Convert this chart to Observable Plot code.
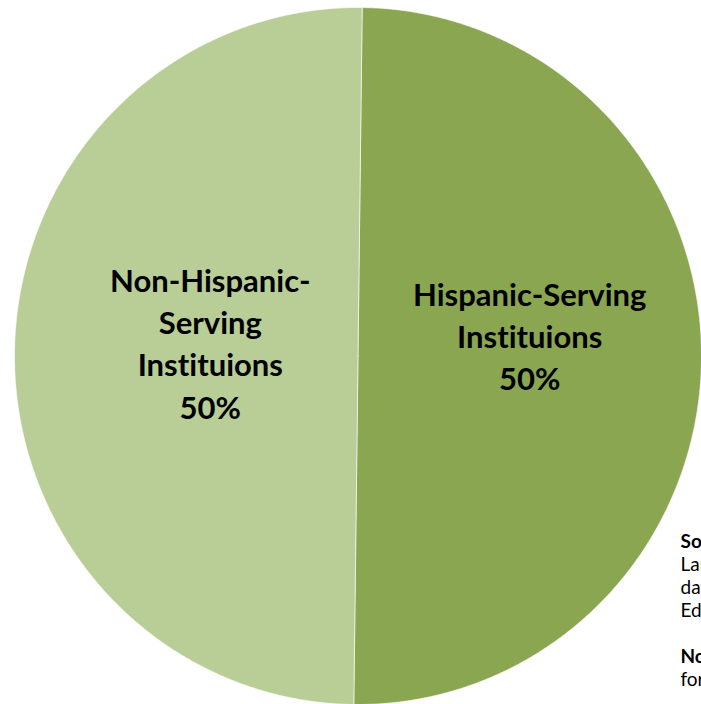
<!DOCTYPE html>
<html>
<head>
<meta charset="utf-8">
<script src="https://cdn.jsdelivr.net/npm/d3@7"></script>
<script src="https://cdn.jsdelivr.net/npm/@observablehq/plot@0.6"></script>
<style>
  html, body { margin: 0; padding: 0; background: #fff; overflow: hidden; }
  #chart svg { display: block; font-variant-ligatures: none; }
  #chart svg text { font-variant-ligatures: none; }
</style>
</head>
<body>
<div id="chart"></div>
<script>
// ---- data ----
const categories = ["Hispanic-Serving Instituions", "Non-Hispanic-Serving Instituions"];
const shares = [50, 50];
const labelLines = [
  ["Hispanic-Serving", "Instituions", "50%"],
  ["Non-Hispanic-", "Serving", "Instituions", "50%"]
];
const sliceColors = ["#8aa650", "#b9cd96"];
const noteLines = ["Source:", "Largest ...", "data ...", "Education ...", "", "Note:", "for ..."];
const noteBold = [true, false, false, false, false, true, false];

(function () {
  // ---- geometry ----
  const W = 701, H = 704;
  const pxLeft = 14, pxRight = 701, pxTop = 7, pxBottom = 704;
  const cx = (pxLeft + pxRight) / 2, cy = (pxTop + pxBottom) / 2;
  const Rx = (pxRight - pxLeft) / 2, Ry = (pxBottom - pxTop) / 2;
  const rotation = 0.7 * Math.PI / 180;

  const pie = d3.pie().sort(null).value(d => d).startAngle(rotation).endAngle(rotation + 2 * Math.PI);
  const arcs = pie(shares);

  const polys = [];
  arcs.forEach((a, i) => {
    polys.push({cat: categories[i], x: 0, y: 0});
    const n = 400;
    for (let k = 0; k <= n; k++) {
      const t = a.startAngle + (a.endAngle - a.startAngle) * k / n;
      polys.push({cat: categories[i], x: Math.sin(t), y: Math.cos(t)});
    }
    polys.push({cat: categories[i], x: 0, y: 0});
  });

  const labels = arcs.map((a, i) => {
    const mid = (a.startAngle + a.endAngle) / 2;
    const rr = i === 0 ? 0.5 : 0.43;
    return {text: labelLines[i].join("\n"), x: rr * Math.sin(mid), y: rr * Math.cos(mid) + (i === 0 ? 0.05 : 0.018)};
  });

  const notes = noteLines.map((t, i) => ({text: t, bold: noteBold[i], x: (680 - cx) / Rx, y: (cy - (541 + i * 23)) / Ry}));

  const font = "Lato, 'Open Sans', sans-serif";
  const chart = Plot.plot({
    width: W,
    height: H,
    margin: 0,
    x: {domain: [-1, 1], range: [pxLeft, pxRight], axis: null},
    y: {domain: [-1, 1], range: [pxBottom, pxTop], axis: null},
    color: {domain: categories, range: sliceColors},
    style: {background: "#fff"},
    marks: [
      Plot.line(polys, {x: "x", y: "y", z: "cat", fill: "cat", stroke: "#ffffff", strokeWidth: 1, strokeOpacity: 0.6, curve: "linear"}),
      Plot.text(labels, {x: "x", y: "y", text: "text", fontFamily: font, fontWeight: "bold", fontSize: 31, lineHeight: 1.36, fill: "#000", dy: -6}),
      Plot.text(notes.filter(d => d.bold), {x: "x", y: "y", text: "text", textAnchor: "start", fontFamily: font, fontWeight: "bold", fontSize: 19, fill: "#000"}),
      Plot.text(notes.filter(d => !d.bold), {x: "x", y: "y", text: "text", textAnchor: "start", fontFamily: font, fontSize: 19, fill: "#000"})
    ]
  });
  document.getElementById("chart").appendChild(chart);
})();
</script>
</body>
</html>
